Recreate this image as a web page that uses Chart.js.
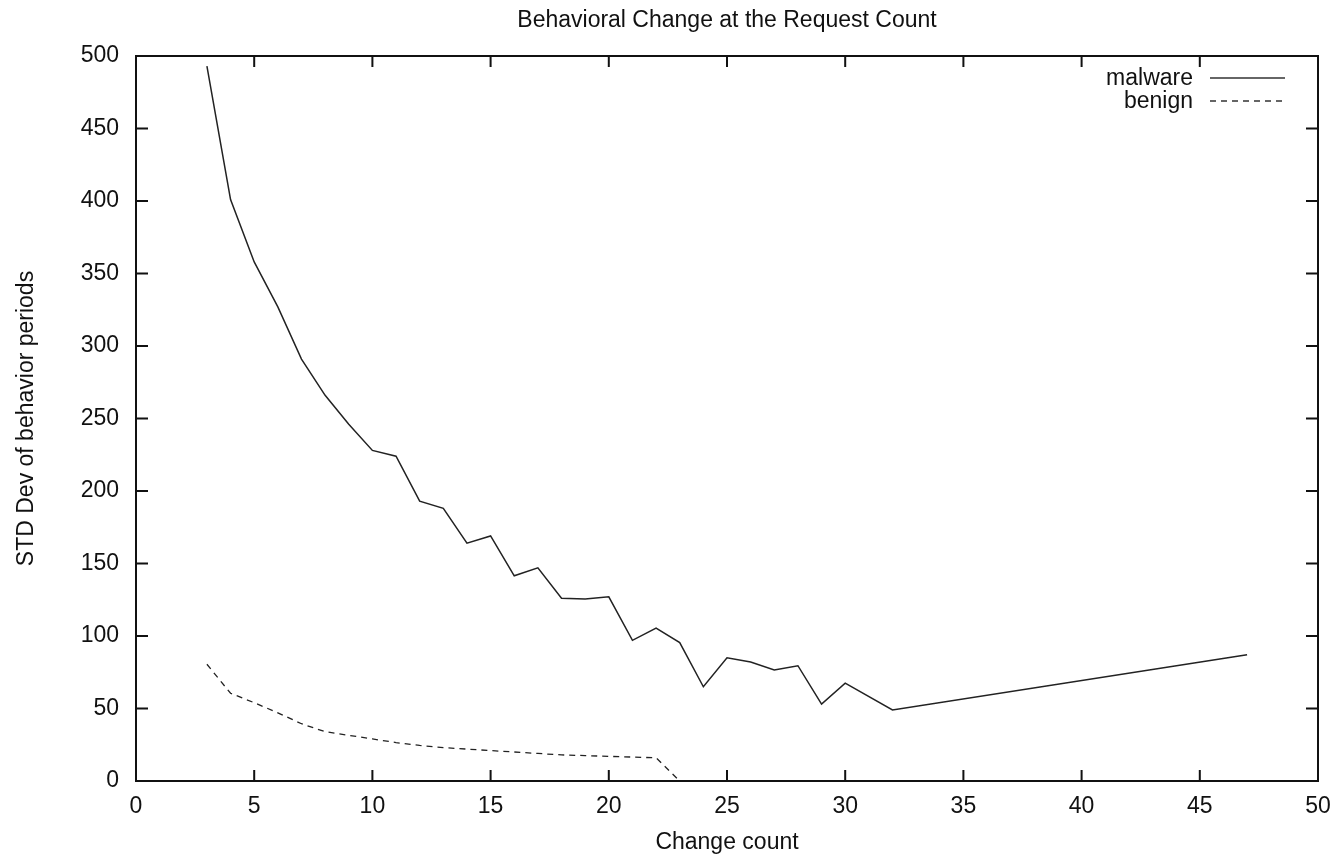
<!DOCTYPE html>
<html>
<head>
<meta charset="utf-8">
<script src="https://cdn.jsdelivr.net/npm/chart.js@4"></script>
<style>
  html, body { margin: 0; padding: 0; background: #fff; }
  #wrap { width: 1338px; height: 857px; }
</style>
</head>
<body>
<div id="wrap"><canvas id="behaviorChart"></canvas></div>
<script>
const malwareCounts = [3, 4, 5, 6, 7, 8, 9, 10, 11, 12, 13, 14, 15, 16, 17, 18, 19, 20, 21, 22, 23, 24, 25, 26, 27, 28, 29, 30, 32, 47];
const malwareStd = [493, 401, 358, 327, 291, 266, 246, 228, 224, 193, 188, 164, 169, 141.5, 147, 126, 125.5, 127, 97, 105.5, 95.5, 65, 85, 82, 76.5, 79.5, 53, 67.5, 49, 87];

const benignCounts = [3, 4, 5, 6, 7, 8, 9, 10, 11, 12, 13, 14, 15, 16, 17, 18, 19, 20, 21, 22, 23];
const benignStd = [80.5, 60.5, 54, 47, 39.5, 34, 31.5, 29, 26.5, 24.5, 23, 22, 21, 20, 19, 18, 17.5, 17, 16.5, 16, 0];

const xTicks = [0, 5, 10, 15, 20, 25, 30, 35, 40, 45, 50];
const yTicks = [0, 50, 100, 150, 200, 250, 300, 350, 400, 450, 500];

const FONT = "'Liberation Sans', Arial, Helvetica, sans-serif";
const FSIZE = 23;
const INK = '#111';

const toPoints = (xs, ys) => xs.map((x, i) => ({ x: x, y: ys[i] }));

// gnuplot style frame: box, inward ticks on all four sides, key inside top right
const gnuFrame = {
  id: 'gnuFrame',
  afterDraw(chart) {
    const { ctx, chartArea: a, scales } = chart;
    ctx.save();
    ctx.strokeStyle = INK;
    ctx.lineWidth = 2;
    ctx.strokeRect(a.left, a.top, a.right - a.left, a.bottom - a.top);

    ctx.beginPath();
    xTicks.forEach(v => {
      const px = scales.x.getPixelForValue(v);
      ctx.moveTo(px, a.bottom); ctx.lineTo(px, a.bottom - 11);
      ctx.moveTo(px, a.top); ctx.lineTo(px, a.top + 11);
    });
    yTicks.forEach(v => {
      const py = scales.y.getPixelForValue(v);
      ctx.moveTo(a.left, py); ctx.lineTo(a.left + 12, py);
      ctx.moveTo(a.right, py); ctx.lineTo(a.right - 12, py);
    });
    ctx.stroke();

    // key
    const textRight = a.right - 125;
    const sx0 = a.right - 108, sx1 = a.right - 33;
    ctx.font = FSIZE + 'px ' + FONT;
    ctx.fillStyle = INK;
    ctx.textAlign = 'right';
    ctx.textBaseline = 'middle';
    chart.data.datasets.forEach((ds, i) => {
      const y = a.top + 23 + i * 23;
      ctx.fillText(ds.label, textRight, y);
      ctx.beginPath();
      ctx.lineWidth = 1.3;
      ctx.strokeStyle = '#333';
      ctx.setLineDash(ds.borderDash || []);
      ctx.moveTo(sx0, y - 1); ctx.lineTo(sx1, y - 1);
      ctx.stroke();
      ctx.setLineDash([]);
    });
    ctx.restore();
  }
};

new Chart(document.getElementById('behaviorChart'), {
  type: 'line',
  data: {
    datasets: [
      {
        label: 'malware',
        data: toPoints(malwareCounts, malwareStd),
        borderColor: '#222',
        borderWidth: 1.5,
        pointRadius: 0,
        tension: 0,
      },
      {
        label: 'benign',
        data: toPoints(benignCounts, benignStd),
        borderColor: '#222',
        borderWidth: 1.3,
        borderDash: [6, 5],
        pointRadius: 0,
        tension: 0,
      },
    ],
  },
  options: {
    responsive: true,
    maintainAspectRatio: false,
    animation: false,
    layout: { padding: { left: 0, right: 20, top: 0, bottom: 0 } },
    plugins: {
      legend: { display: false },
      tooltip: { enabled: false },
      title: {
        display: true,
        fullSize: false,
        text: 'Behavioral Change at the Request Count',
        color: INK,
        font: { family: FONT, size: FSIZE, weight: 'normal' },
        padding: { top: 7, bottom: 21.4 },
      },
    },
    scales: {
      x: {
        type: 'linear',
        min: 0,
        max: 50,
        afterBuildTicks: (s) => { s.ticks = xTicks.map(v => ({ value: v })); },
        afterFit: (s) => { s.height = 76; s.paddingLeft = 0; s.paddingRight = 0; },
        grid: { display: false, drawTicks: false },
        border: { display: false },
        ticks: { color: INK, padding: 12, font: { family: FONT, size: FSIZE } },
        title: {
          display: true,
          text: 'Change count',
          color: INK,
          font: { family: FONT, size: FSIZE },
          padding: { top: 0, bottom: 1 },
        },
      },
      y: {
        type: 'linear',
        min: 0,
        max: 500,
        afterBuildTicks: (s) => { s.ticks = yTicks.map(v => ({ value: v })); },
        afterFit: (s) => { s.width = 136; },
        grid: { display: false, drawTicks: false },
        border: { display: false },
        ticks: { color: INK, padding: 17, font: { family: FONT, size: FSIZE } },
        title: {
          display: true,
          text: 'STD Dev of behavior periods',
          color: INK,
          font: { family: FONT, size: FSIZE },
          padding: { top: 13, bottom: 0 },
        },
      },
    },
  },
  plugins: [gnuFrame],
});
</script>
</body>
</html>
